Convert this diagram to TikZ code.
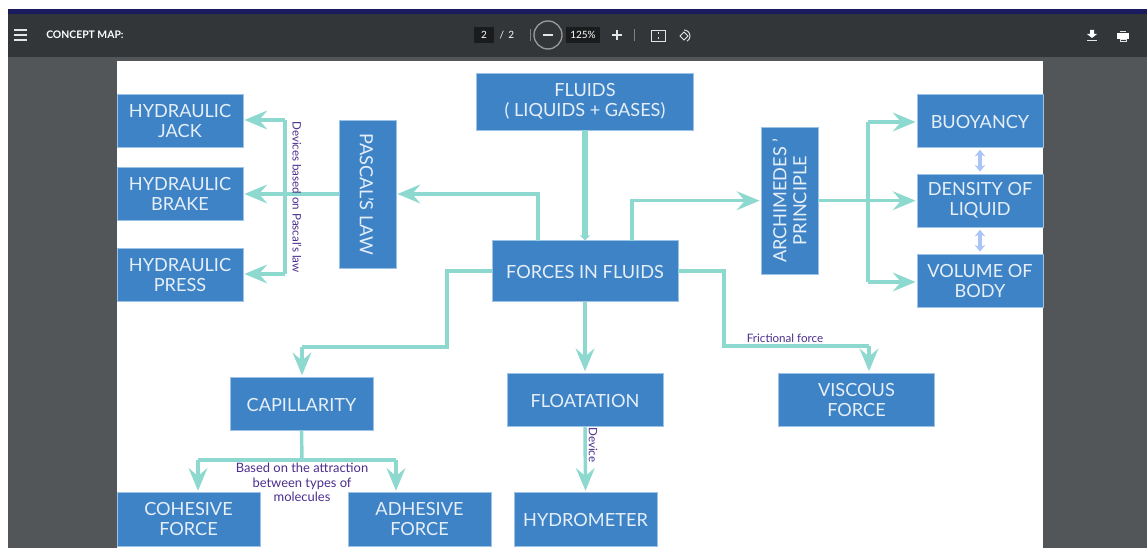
\documentclass[tikz,border=0pt]{standalone}
\usepackage{fontspec}
\setmainfont{Lato}
\usetikzlibrary{arrows.meta}
\definecolor{boxblue}{HTML}{3F83C7}
\definecolor{boxline}{HTML}{9CC3E6}
\definecolor{boxtext}{HTML}{E6EFF8}
\definecolor{linkgreen}{HTML}{8DD9CF}
\definecolor{notepurple}{HTML}{4B2E8E}
\definecolor{twinblue}{HTML}{A9C4F5}
\definecolor{barcol}{HTML}{323639}
\definecolor{backcol}{HTML}{525659}
\definecolor{navycol}{HTML}{1A1A5E}
\definecolor{fieldcol}{HTML}{191B1C}

\begin{document}
\begin{tikzpicture}[x=0.75pt,y=-0.75pt]

\tikzstyle{b} = [draw=boxline, fill=boxblue, text=boxtext, align=center, inner sep=0pt, font=\fontsize{13.6}{15}\selectfont, line width=0.4pt, execute at begin node={\rule{0pt}{11.4pt}}]
\tikzstyle{sm} = [b, minimum width=94.2pt, minimum height=40.2pt]
\tikzstyle{md} = [b, minimum width=107pt, minimum height=40.2pt]
\tikzstyle{lg} = [b, minimum width=116.7pt, minimum height=40.2pt]
\tikzstyle{tall} = [b, minimum width=110.7pt, minimum height=42.5pt]
\tikzstyle{link} = [draw=linkgreen, line width=2.6pt, -{Stealth[length=17pt,width=14pt,inset=6pt]}, shorten >=1pt]
\tikzstyle{plain} = [draw=linkgreen, line width=2.6pt]
\tikzstyle{twin} = [draw=twinblue, line width=2.6pt, {Stealth[length=5pt,width=8pt]}-{Stealth[length=5pt,width=8pt]}]
\tikzstyle{note} = [text=notepurple, align=center, inner sep=0pt, font=\fontsize{8.7}{11}\selectfont]
\tikzstyle{tool} = [text=white, inner sep=0pt, font=\fontsize{7.5}{8}\selectfont]
\tikzstyle{icon} = [draw=white!90!black, line width=0.7pt]

\useasboundingbox (0,0) rectangle (1147,548);

% viewer window
\fill[white] (0,0) rectangle (1147,548);
\fill[backcol] (8,57) rectangle (1147,548);
\fill[navycol] (8,9) rectangle (1147,14);
\fill[barcol] (8,14) rectangle (1147,57);
\fill[white] (117,61) rectangle (1043,548);

% toolbar
\foreach \y in {30,35,40} \draw[icon, line width=1pt] (14,\y) -- (27,\y);
\node[tool, font=\bfseries\fontsize{7.8}{8}\selectfont, anchor=west] (title) at (46,35) {CONCEPT MAP:};
\fill[fieldcol] (474,27) rectangle (494,43);
\node[tool] (page) at (484,35) {2};
\node[tool] (pages) at (507,35) {/ \,2};
\draw[gray, line width=0.5pt] (530,29) -- (530,41);
\draw[gray!80!white, line width=1pt] (548,35) circle [radius=14];
\draw[icon, line width=1pt] (543,35) -- (553,35);
\fill[fieldcol] (566,27) rectangle (600,43);
\node[tool] (zoomlevel) at (583,35) {125\%};
\draw[icon, line width=1pt] (612,35) -- (622,35) (617,30) -- (617,40);
\draw[gray, line width=0.5pt] (634,29) -- (634,41);
\draw[icon] (651,30) rectangle (665,41);
\draw[icon] (658,32) -- (658,34) (658,37) -- (658,39);
\draw[icon] (680,36) -- (684,32) -- (688,36) -- (684,40) -- cycle;
\draw[icon] (684,30) arc (-90:60:6);
\draw[icon] (1087,40) -- (1097,40);
\fill[white] (1090,30) rectangle (1094,34) (1087,34) -- (1097,34) -- (1092,38) -- cycle;
\fill[white] (1117,33) rectangle (1129,39);
\draw[icon] (1120,31) -- (1126,31) (1120,39) rectangle (1126,41);

% boxes
\node[sm] (jack) at (180,120.7) {HYDRAULIC\\JACK};
\node[sm] (brake) at (180,193.7) {HYDRAULIC\\BRAKE};
\node[sm] (press) at (180,274.7) {HYDRAULIC\\PRESS};
\node[tall, rotate=-90] (pascal) at (367.5,194) {PASCAL'S LAW};
\node[b, minimum width=162.5pt, minimum height=42.5pt] (fluids) at (585,101.7) {FLUIDS\\( LIQUIDS + GASES)};
\node[b, minimum width=139.2pt, minimum height=45.5pt] (forces) at (585,271) {FORCES IN FLUIDS};
\node[tall, rotate=90] (arch) at (789.5,200.7) {ARCHIMEDES '\\PRINCIPLE};
\node[sm] (buoy) at (980,120.7) {BUOYANCY};
\node[sm] (density) at (980,200.7) {DENSITY OF\\LIQUID};
\node[sm] (volume) at (980,280.7) {VOLUME OF\\BODY};
\node[md] (capil) at (301.5,403.7) {CAPILLARITY};
\node[lg] (float) at (585,399.7) {FLOATATION};
\node[lg] (viscous) at (856.5,399.7) {VISCOUS\\FORCE};
\node[md] (cohesive) at (188.5,519.2) {COHESIVE\\FORCE};
\node[md] (adhesive) at (419.5,519.2) {ADHESIVE\\FORCE};
\node[md] (hydro) at (585.5,519.2) {HYDROMETER};

% free ends of the connectors
\coordinate (fp) at (538,241);
\coordinate (fa) at (632,241);
\coordinate (jb) at (285,120);
\coordinate (pb) at (285,274);
\coordinate (ab) at (868,122);
\coordinate (vb) at (868,282);
\coordinate (cl) at (447,347);
\coordinate (cr) at (302,347);
\coordinate (vl) at (724,346);
\coordinate (vr) at (869,346);
\coordinate (cm) at (302,460);
\coordinate (cc) at (198,460);
\coordinate (ca) at (396,460);

% connectors
\draw[draw=linkgreen, line width=4.4pt, -{Stealth[length=4pt,width=8pt]}] (fluids.south) -- (forces.north);
\draw[link] (fp) |- (pascal.north);
\draw[link] (fa) |- (arch.north);
\draw[link] (pascal.south) -- (pascal.south -| brake.east);
\draw[plain] (jb) -- (pb);
\draw[link] (jb) -- (jb -| jack.east);
\draw[link] (pb) -- (pb -| press.east);
\draw[link] (arch.south) -- (density.west);
\draw[plain] (ab) -- (vb);
\draw[link] (ab) -- (ab -| buoy.west);
\draw[link] (vb) -- (vb -| volume.west);
\draw[plain] (forces.west) -| (cl) -- (cr);
\draw[link] (cr) -- (cr |- capil.north);
\draw[link] (forces.south) -- (float.north);
\draw[plain] (forces.east) -| (vl) -- (vr);
\draw[link] (vr) -- (vr |- viscous.north);
\draw[link] (float.south) -- (hydro.north);
\draw[plain] (capil.south) -- (cm);
\draw[plain] (cc) -- (ca);
\draw[link] (cc) -- (cc |- cohesive.north);
\draw[link] (ca) -- (ca |- adhesive.north);
\draw[twin] (buoy.south) ++(0,2) -- ([yshift=1.5pt]density.north);
\draw[twin] (density.south) ++(0,2) -- ([yshift=1.5pt]volume.north);

% notes
\node[note, rotate=-90] (devpascal) at (297,197) {Devices based on Pascal's law};
\node[note] (friction) at (785,338) {Frictional force};
\node[note, rotate=-90] (devfloat) at (593,445) {Device};
\node[note, font=\fontsize{9.7}{11}\selectfont] (attract) at (302,482.5) {Based on the attraction\\between types of\\molecules};
\end{tikzpicture}
\end{document}
